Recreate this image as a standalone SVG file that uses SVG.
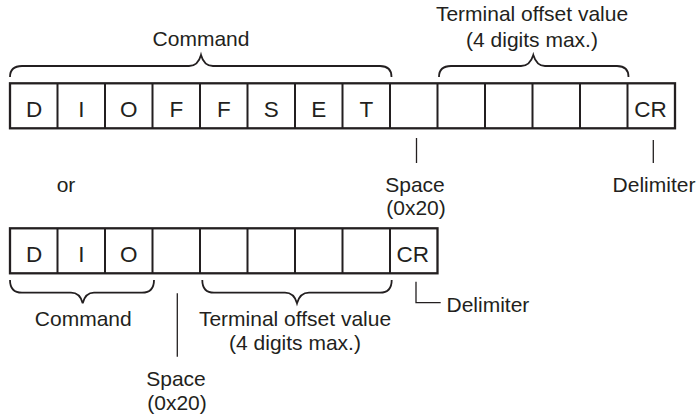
<svg xmlns="http://www.w3.org/2000/svg" width="697" height="418" viewBox="0 0 697 418">
<style>
text{font-family:"Liberation Sans",Arial,Helvetica,sans-serif;font-size:21px;fill:#231f20}
.c{text-anchor:middle}
.cell{font-size:22.5px}
.box{fill:#fff;stroke:#231f20;stroke-width:2.3}
.div{stroke:#231f20;stroke-width:2}
.brace{fill:none;stroke:#231f20;stroke-width:1.8}
.ln{fill:none;stroke:#231f20;stroke-width:1.3}
</style>
<rect width="697" height="418" fill="#fff"/>
<g id="row1">
<rect class="box" x="10" y="83.3" width="665" height="45"/>
<path class="div" d="M57.5,83.3V128.3M105,83.3V128.3M152.5,83.3V128.3M200,83.3V128.3M247.5,83.3V128.3M295,83.3V128.3M342.5,83.3V128.3M390,83.3V128.3M437.5,83.3V128.3M485,83.3V128.3M532.5,83.3V128.3M580,83.3V128.3M627.5,83.3V128.3"/>
<text class="c cell" x="34" y="116.7">D</text>
<text class="c cell" x="81.3" y="116.7">I</text>
<text class="c cell" x="128.8" y="116.7">O</text>
<text class="c cell" x="176.3" y="116.7">F</text>
<text class="c cell" x="223.8" y="116.7">F</text>
<text class="c cell" x="271.3" y="116.7">S</text>
<text class="c cell" x="318.8" y="116.7">E</text>
<text class="c cell" x="366.3" y="116.7">T</text>
<text class="c cell" x="650.5" y="116.7">CR</text>
</g>
<g id="row2">
<rect class="box" x="10" y="228.3" width="427.5" height="45"/>
<path class="div" d="M57.5,228.3V273.3M105,228.3V273.3M152.5,228.3V273.3M200,228.3V273.3M247.5,228.3V273.3M295,228.3V273.3M342.5,228.3V273.3M390,228.3V273.3"/>
<text class="c cell" x="34" y="261.5">D</text>
<text class="c cell" x="81.3" y="261.5">I</text>
<text class="c cell" x="128.8" y="261.5">O</text>
<text class="c cell" x="412.7" y="261.5">CR</text>
</g>
<g id="labels-top">
<text class="c" x="201" y="46">Command</text>
<text class="c" x="532" y="21">Terminal offset value</text>
<text class="c" x="532" y="47">(4 digits max.)</text>
<text class="c" x="415" y="192">Space</text>
<text class="c" x="416" y="215">(0x20)</text>
<text class="c" x="654" y="192">Delimiter</text>
<text class="c" x="66" y="192">or</text>
</g>
<g id="labels-bottom">
<text class="c" x="83.3" y="326">Command</text>
<text class="c" x="295" y="326">Terminal offset value</text>
<text class="c" x="295" y="350">(4 digits max.)</text>
<text class="c" x="176" y="386">Space</text>
<text class="c" x="177" y="410">(0x20)</text>
<text x="446.5" y="312">Delimiter</text>
</g>
<g id="connectors">
<path class="brace" d="M10,77 Q10,66 22,66 L189,66 Q198,66 201,55 Q204,66 213,66 L380,66 Q391.5,66 391.5,77"/>
<path class="brace" d="M439,77 Q439,66 451,66 L521,66 Q530,66 533.3,55 Q536.6,66 545,66 L617,66 Q628.5,66 628.5,77"/>
<path class="brace" d="M10,280 Q10,292.7 22,292.7 L71,292.7 Q80,292.7 82.7,303.3 Q85.4,292.7 94,292.7 L142,292.7 Q154,292.7 154,280"/>
<path class="brace" d="M202.3,280 Q202.3,292.7 214,292.7 L285,292.7 Q294,292.7 297,303.3 Q300,292.7 309,292.7 L380,292.7 Q391.7,292.7 391.7,280"/>
<path class="ln" d="M416.5,138V163"/>
<path class="ln" d="M653.3,140V163"/>
<path class="ln" d="M177.3,293.3V356.7"/>
<path class="ln" d="M416,281.7V302.7H440.7"/>
</g>
</svg>
